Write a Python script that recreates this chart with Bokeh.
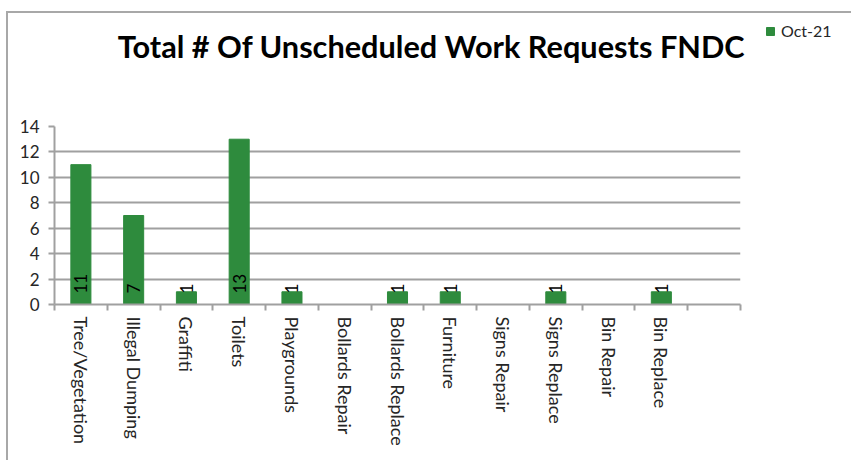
import math
from bokeh.plotting import figure
from bokeh.layouts import column
from bokeh.models import (Range1d, FixedTicker, Legend, LegendItem,
                          ColumnDataSource, Label)
from bokeh.core.properties import value
from bokeh.embed import file_html
from bokeh.resources import INLINE

# ---- data ----
categories = ["Tree/Vegetation", "Illegal Dumping", "Graffiti", "Toilets",
              "Playgrounds", "Bollards Repair", "Bollards Replace", "Furniture",
              "Signs Repair", "Signs Replace", "Bin Repair", "Bin Replace"]
counts = [11, 7, 1, 13, 1, None, 1, 1, None, 1, None, 1]
series_name = "Oct-21"
title_text = "Total # Of Unscheduled Work Requests FNDC"
y_ticks = [0, 2, 4, 6, 8, 10, 12, 14]

GREEN = "#2e8b3d"
GRID = "#a0a0a0"
TXT = "#262626"
FONT = "Lato"

n_slots = len(categories) + 1  # one trailing empty slot as in the original
idx = [i + 0.5 for i in range(len(categories))]
bx = [x for x, c in zip(idx, counts) if c is not None]
by = [c for c in counts if c is not None]
src = ColumnDataSource(dict(x=bx, top=by, lab=[str(c) for c in by]))

W = 843
H_HEAD = 100
H_MAIN = 347

# ---- header: title and legend ----
# its value range lies above the data, so the series renderer only feeds the legend key
h = figure(width=W, height=H_HEAD, output_backend="svg", toolbar_location=None,
           x_range=Range1d(0, n_slots), y_range=Range1d(100, 101),
           x_axis_location=None, y_axis_location=None,
           min_border=0, min_border_left=0, min_border_right=0,
           min_border_top=0, min_border_bottom=0)
h.frame_align = False
h.grid.visible = False
h.outline_line_color = None
h.background_fill_color = "white"
h.border_fill_color = "white"

h.add_layout(Label(x=423, y=67, x_units="screen", y_units="screen",
                   text=title_text, text_align="center",
                   text_baseline="alphabetic", text_font=FONT,
                   text_font_style="bold", text_font_size="30.7px",
                   text_color="black"))

rh = h.vbar(x="x", top="top", width=0.38, source=src, fill_color=GREEN,
            line_color=GREEN)
legend = Legend(items=[LegendItem(label=series_name, renderers=[rh])],
                location=(757, 73), padding=0, spacing=0, margin=0,
                glyph_width=10, glyph_height=10, label_standoff=6,
                label_text_font=FONT, label_text_font_size="16px",
                label_text_color=TXT, border_line_color=None,
                background_fill_alpha=0)
h.add_layout(legend, "center")

# ---- main chart ----
p = figure(width=W, height=H_MAIN, output_backend="svg", toolbar_location=None,
           x_range=Range1d(0, n_slots), y_range=Range1d(0, 14),
           min_border_left=46, min_border_right=111, min_border_top=13,
           min_border_bottom=156)
p.frame_align = False
p.outline_line_color = None
p.background_fill_color = "white"
p.border_fill_color = "white"

r = p.vbar(x="x", top="top", width=0.38, source=src, fill_color=GREEN,
           line_color=GREEN)

p.text(x="x", y=0, text="lab", source=src, angle=math.pi / 2,
       text_align="left", text_baseline="middle", y_offset=-11,
       text_font=value(FONT), text_font_size="17px", text_color="black")

xa = p.xaxis[0]
xa.ticker = FixedTicker(ticks=idx, minor_ticks=list(range(n_slots + 1)))
xa.major_label_overrides = {x: c for x, c in zip(idx, categories)}
xa.major_label_orientation = "vertical"
xa.major_tick_out = 0
xa.major_tick_in = 0
xa.minor_tick_out = 6
xa.minor_tick_in = 0
xa.minor_tick_line_color = GRID
xa.minor_tick_line_width = 2
xa.axis_line_color = GRID
xa.axis_line_width = 2
xa.major_label_standoff = 6
xa.major_label_text_font = FONT
xa.major_label_text_font_size = "18px"
xa.major_label_text_color = TXT

ya = p.yaxis[0]
ya.ticker = FixedTicker(ticks=y_ticks)
ya.major_tick_out = 6
ya.major_tick_in = 0
ya.minor_tick_out = 0
ya.minor_tick_in = 0
ya.major_tick_line_color = GRID
ya.major_tick_line_width = 2
ya.axis_line_color = GRID
ya.axis_line_width = 2
ya.major_label_standoff = 9
ya.major_label_text_font = FONT
ya.major_label_text_font_size = "17px"
ya.major_label_text_color = TXT

p.xgrid.grid_line_color = None
p.ygrid.ticker = FixedTicker(ticks=y_ticks)
p.ygrid.grid_line_color = GRID
p.ygrid.grid_line_width = 2

page = column(h, p, spacing=0)
page.styles = {"margin-left": "6px", "margin-top": "11px",
               "border-left": "2px solid #a8a8a8",
               "border-top": "2px solid #a8a8a8"}

open("out.html", "w").write(file_html(page, INLINE))
